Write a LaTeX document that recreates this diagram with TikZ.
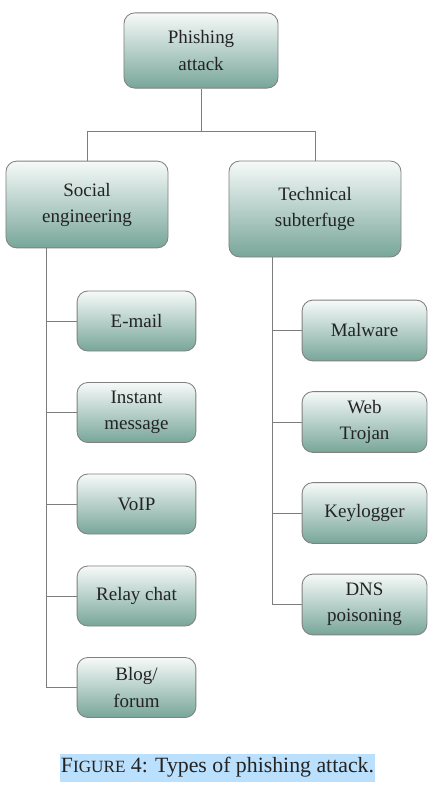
\documentclass[tikz,border=0pt]{standalone}
\usepackage{fontspec}
\setmainfont{Liberation Serif}
\usetikzlibrary{positioning}
\definecolor{boxtop}{RGB}{246,250,249}
\definecolor{boxbot}{RGB}{120,166,153}
\definecolor{boxline}{RGB}{128,128,128}
\definecolor{linkgray}{RGB}{125,125,125}
\definecolor{inkgray}{RGB}{35,35,35}
\definecolor{capblue}{RGB}{186,224,253}
\tikzset{
  tbox/.style={draw=boxline, line width=0.6pt, rounded corners=0.27cm,
    top color=boxtop, bottom color=boxbot, align=center, text=inkgray,
    font=\fontsize{13.5}{18.5}\selectfont, inner sep=2pt},
  leafl/.style={tbox, minimum width=2.97cm, minimum height=1.5cm},
  leafr/.style={tbox, minimum width=3.12cm, minimum height=1.52cm},
  link/.style={draw=linkgray, line width=0.7pt}
}
\begin{document}
\begin{tikzpicture}[x=0.025cm,y=-0.025cm]
\useasboundingbox (0,0) rectangle (440,795);
% levels 0 and 1
\node[tbox, minimum width=3.85cm, minimum height=1.88cm] (phish) at (201,50.5) {Phishing\\attack};
\node[tbox, minimum width=4.05cm, minimum height=2.17cm] (social) at (87,204.5) {Social\\engineering};
\node[tbox, minimum width=4.3cm, minimum height=2.4cm] (tech) at (315,209) {Technical\\subterfuge};
\coordinate (bus) at (201,131);
\draw[link] (phish.south) -- (bus) -| (social.north);
\draw[link] (bus) -| (tech.north);
% social engineering
\node[leafl] (email) at (136.5,321) {E-mail};
\node[leafl] (im) at (136.5,412.5) {Instant\\message};
\node[leafl] (voip) at (136.5,504) {VoIP};
\node[leafl] (relay) at (136.5,596) {Relay chat};
\node[leafl] (blog) at (136.5,687.5) {Blog/\\forum};
\coordinate (lspine) at (46,248);
\draw[link] (lspine) |- (blog.west);
\foreach \n in {email,im,voip,relay}
  \draw[link] (\n.west) -- (\n.west -| lspine);
% technical subterfuge
\node[leafr] (malware) at (364.5,330.5) {Malware};
\node[leafr] (trojan) at (364.5,422) {Web\\Trojan};
\node[leafr] (keylog) at (364.5,513) {Keylogger};
\node[leafr] (dns) at (364.5,604.5) {DNS\\poisoning};
\coordinate (rspine) at (272,257);
\draw[link] (rspine) |- (dns.west);
\foreach \n in {malware,trojan,keylog}
  \draw[link] (\n.west) -- (\n.west -| rspine);
% caption
\node[fill=capblue, minimum width=7.88cm, minimum height=0.7cm, inner sep=0pt,
  text=inkgray, font=\fontsize{15.5}{17}\selectfont] (caption) at (217.5,767.5)
  {F{\fontsize{12.2}{17}\selectfont IGURE} 4: Types of phishing attack.};
\end{tikzpicture}
\end{document}
